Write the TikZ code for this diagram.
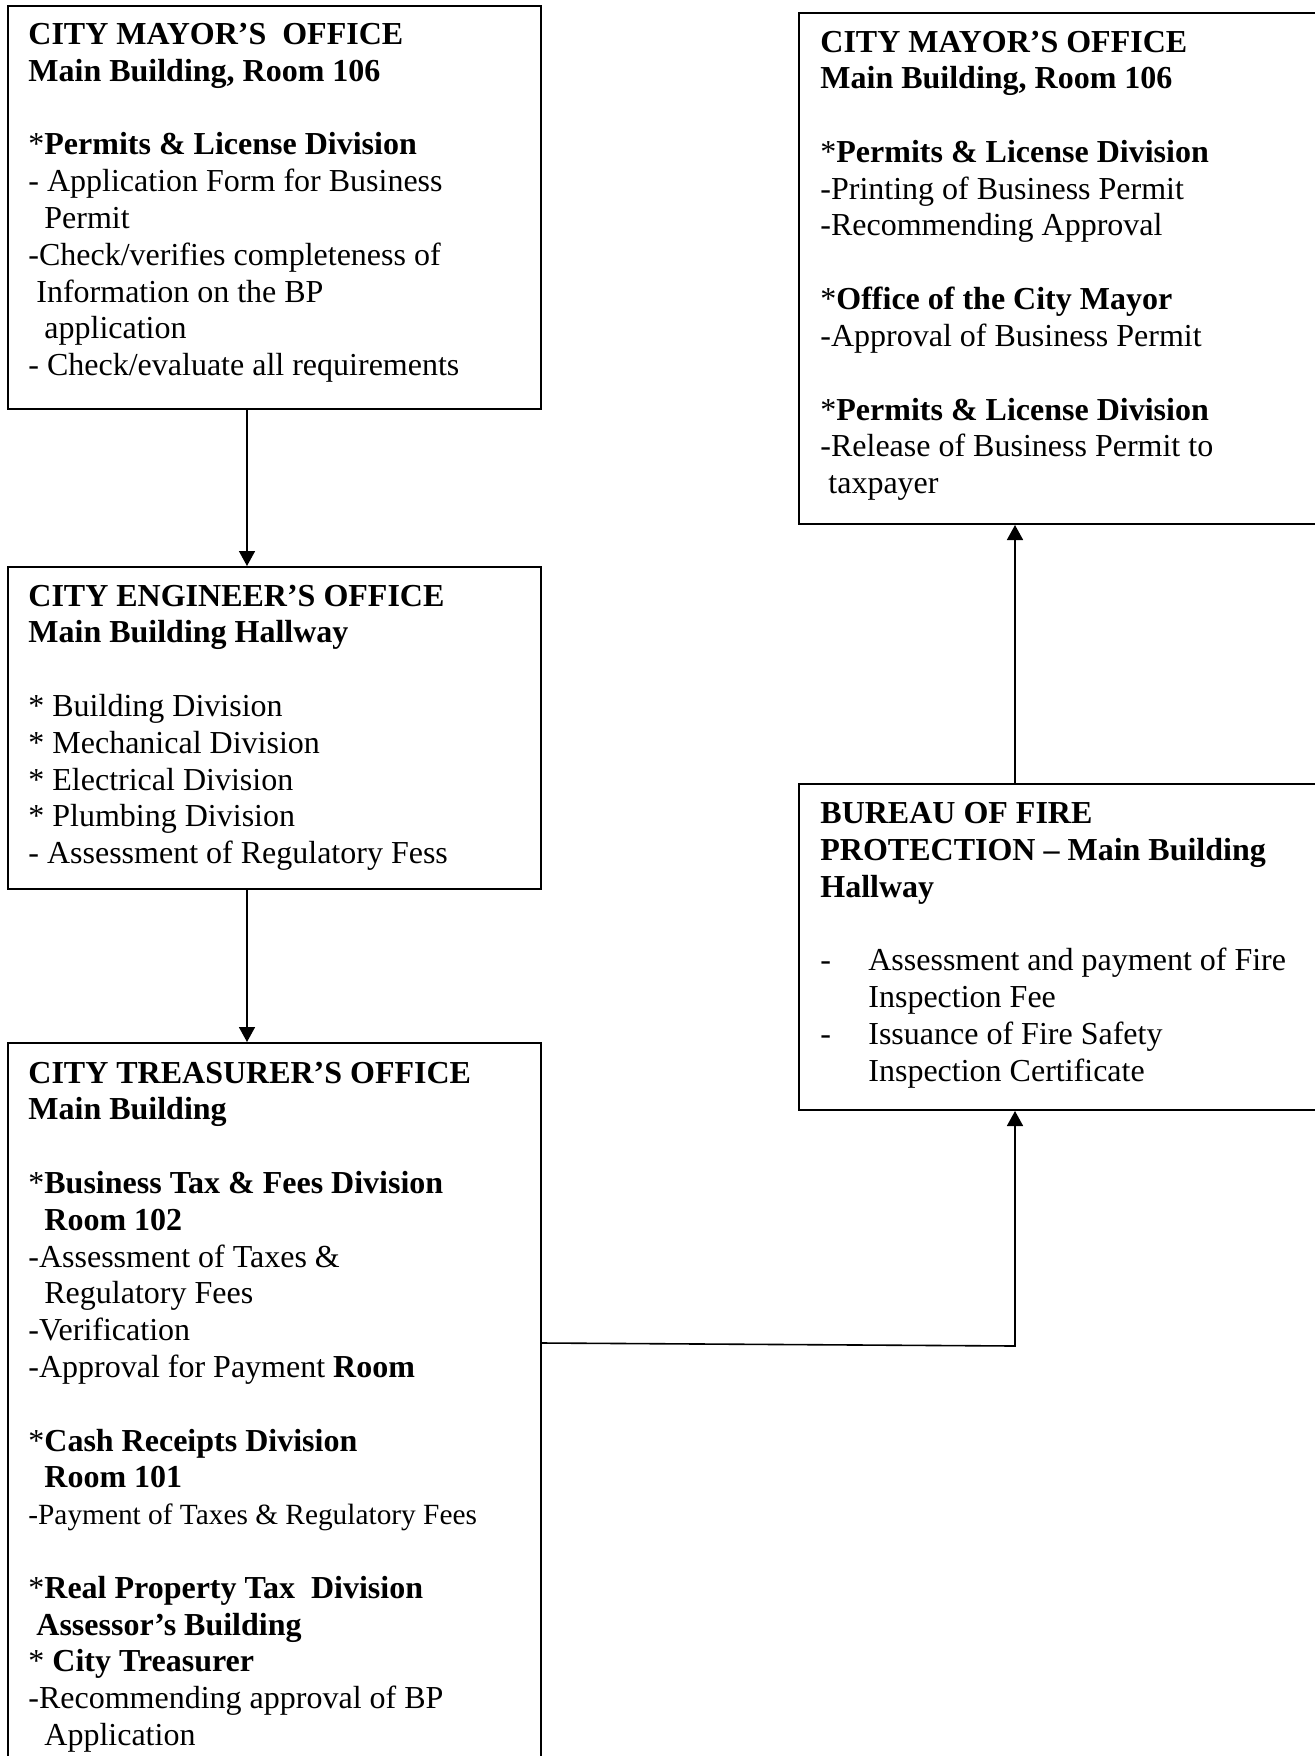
\documentclass[tikz,border=0pt]{standalone}
\usepackage{fontspec}
\setmainfont{Liberation Serif}
\usetikzlibrary{arrows.meta}
\newcommand\emptyln{\mbox{}}
\newcommand\bpast{{*}}
\newcommand\tightsp{\spaceskip=0.25em\relax\xspaceskip=0.25em\relax}
\begin{document}
\begin{tikzpicture}[x=0.5pt,y=-0.5pt,
  box/.style={draw, line width=1pt, anchor=north west, inner sep=0pt, minimum width=266.5pt},
  txt/.style={anchor=base west, inner sep=0pt, text width=255pt, font=\fontsize{16}{18.4}\selectfont},
  arr/.style={line width=0.8pt, -{Triangle[length=7.5pt,width=8pt]}}
]
\useasboundingbox (0,0) rectangle (1314,1756);
\fill[white] (0,0) rectangle (1314,1756);

% boxes
\node[box, minimum height=201.5pt] (m1) at (7,5) {};
\node[box, minimum height=161pt] (eng) at (7,566) {};
\node[box, minimum height=374pt] (tr) at (7,1042) {};
\node[box, minimum width=266pt, minimum height=255.5pt] (m2) at (798,12) {};
\node[box, minimum width=266pt, minimum height=163pt] (bfp) at (798,783) {};

% texts
\node[txt] (m1t) at ([xshift=10.5pt,yshift=-19.7pt]m1.north west) {\tightsp
\textbf{CITY MAYOR’S\ \ OFFICE}\\
\textbf{Main Building, Room 106}\\
\emptyln\\
\bpast\textbf{Permits \& License Division}\\
- Application Form for Business\\
\hspace*{8pt}Permit\\
-Check/verifies completeness of\\
\hspace*{4pt}Information on the BP\\
\hspace*{8pt}application\\
- Check/evaluate all requirements};

\node[txt] (m2t) at ([xshift=11pt,yshift=-20pt]m2.north west) {\tightsp
\textbf{CITY MAYOR’S OFFICE}\\
\textbf{Main Building, Room 106}\\
\emptyln\\
\bpast\textbf{Permits \& License Division}\\
-Printing of Business Permit\\
-Recommending Approval\\
\emptyln\\
\bpast\textbf{Office of the City Mayor}\\
-Approval of Business Permit\\
\emptyln\\
\bpast\textbf{Permits \& License Division}\\
-Release of Business Permit to\\
\hspace*{4pt}taxpayer};

\node[txt] (engt) at ([xshift=10.5pt,yshift=-20pt]eng.north west) {\tightsp
\textbf{CITY ENGINEER’S OFFICE}\\
\textbf{Main Building Hallway}\\
\emptyln\\
\bpast{} Building Division\\
\bpast{} Mechanical Division\\
\bpast{} Electrical Division\\
\bpast{} Plumbing Division\\
- Assessment of Regulatory Fess};

\node[txt] (bfpt) at ([xshift=11pt,yshift=-20.3pt]bfp.north west) {\tightsp
\textbf{BUREAU OF FIRE}\\
\textbf{PROTECTION – Main Building}\\
\textbf{Hallway}\\
\emptyln\\
\makebox[24pt][l]{-}Assessment and payment of Fire\\
\hspace*{24pt}Inspection Fee\\
\makebox[24pt][l]{-}Issuance of Fire Safety\\
\hspace*{24pt}Inspection Certificate};

\node[txt] (trt) at ([xshift=10.5pt,yshift=-20.5pt]tr.north west) {\tightsp
\textbf{CITY TREASURER’S OFFICE}\\
\textbf{Main Building}\\
\emptyln\\
\bpast\textbf{Business Tax \& Fees Division}\\
\hspace*{8pt}\textbf{Room 102}\\
-Assessment of Taxes \&\\
\hspace*{8pt}Regulatory Fees\\
-Verification\\
-Approval for Payment \textbf{Room}\\
\emptyln\\
\bpast\textbf{Cash Receipts Division}\\
\hspace*{8pt}\textbf{Room 101}\\
{\fontsize{14.67}{18.4}\selectfont\tightsp -Payment of Taxes \& Regulatory Fees}\\
\emptyln\\
\bpast\textbf{Real Property Tax\ \ Division}\\
\hspace*{4pt}\textbf{Assessor’s Building}\\
\bpast\textbf{\ City Treasurer}\\
-Recommending approval of BP\\
\hspace*{8pt}Application};

% connectors
\coordinate (ax) at (247,0);
\coordinate (jL) at (0,1343);
\coordinate (jR) at (1015,1346);
\draw[arr] (m1.south -| ax) -- (eng.north -| ax);
\draw[arr] (eng.south -| ax) -- (tr.north -| ax);
\draw[arr] (tr.east |- jL) -- (jR) -- (bfp.south -| jR);
\draw[arr] (bfp.north -| jR) -- (m2.south -| jR);
\end{tikzpicture}
\end{document}
